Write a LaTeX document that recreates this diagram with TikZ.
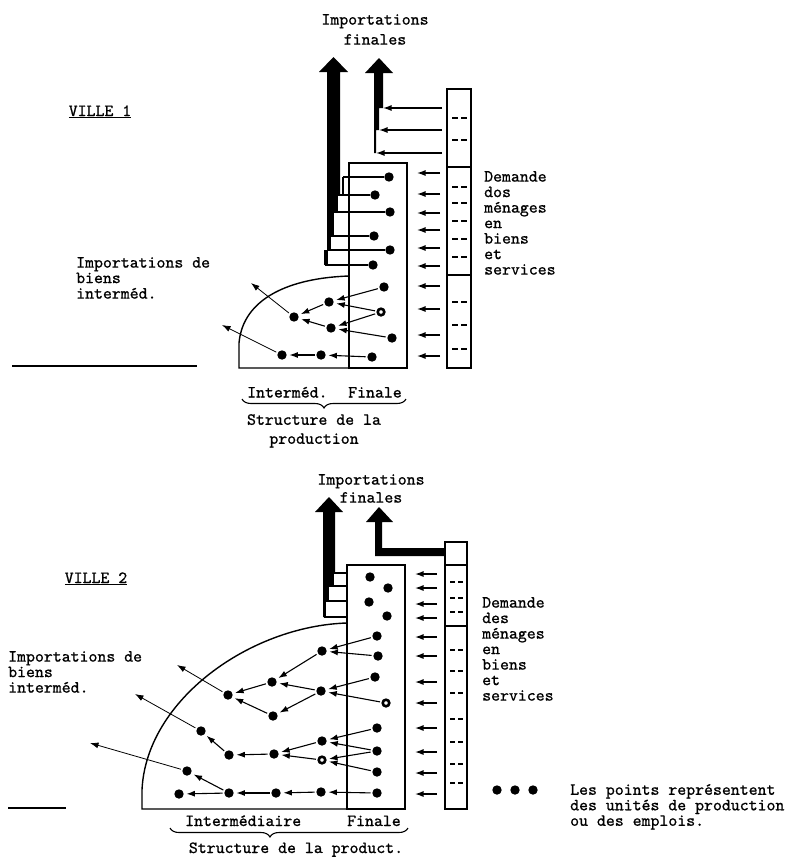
\documentclass[tikz,border=0pt]{standalone}
\usepackage{fontspec}
\newfontfamily\typew{lmmono10-regular.otf}[FakeBold=0.9]
\usetikzlibrary{arrows.meta,decorations.pathreplacing}
\begin{document}
\begin{tikzpicture}[x=1pt,y=-1pt,
  tt/.style={font=\fontsize{17}{15.5}\selectfont\typew, inner sep=0pt},
  txt/.style={tt, align=left, anchor=north west},
  ctr/.style={inner sep=0pt, align=center, anchor=north},
  dot/.style={circle, fill=black, inner sep=0pt, minimum size=9.4pt},
  hdot/.style={circle, draw=black, fill=white, line width=2.6pt, inner sep=0pt, minimum size=6.6pt},
  tip/.style={-{Latex[length=8.5pt,width=6pt]}},
  flow/.style={tip, line width=1.1pt, shorten <=1.5pt, shorten >=2.5pt},
  outflow/.style={tip, line width=0.8pt, shorten <=1.5pt},
  supply/.style={tip, line width=1.3pt},
  frame/.style={line width=1.4pt},
  fine/.style={line width=1.2pt},
  sep/.style={line width=2pt},
  brc/.style={decorate, decoration={brace, mirror, amplitude=9pt}, line width=1.1pt},
]
\useasboundingbox (0,0) rectangle (791,857);

% ===================== VILLE 1 =====================
\node[tt, anchor=base] (v1) at (100,116) {\underline{VILLE 1}};
\node[ctr, font=\fontsize{17}{20}\selectfont\typew] (imf1) at (375,14) {Importations\\finales};
\node[txt] (imi1) at (76,257) {Importations de\\biens\\interméd.};
\node[txt] (dem1) at (484,171) {Demande\\dos\\ménages\\en\\biens\\et\\services};
\draw[frame] (12,366) -- (197,366);

% final imports: two block arrows
\fill (319,72) -- (333.5,57) -- (348,72) -- (340,72) -- (340,195) -- (337,195)
  -- (337,212) -- (333,212) -- (333,236) -- (330,236) -- (330,250) -- (327,250)
  -- (327,72) -- cycle;
\fill (365,73) -- (379,58) -- (393,73) -- (383,73) -- (383,108) -- (379,108)
  -- (379,130) -- (376,130) -- (376,153) -- (374,153) -- (374,73) -- cycle;

% production: finale column and intermediate quarter
\draw[frame] (349,163) rectangle (407,368);
\draw[frame] (349,368) -- (239,368) -- (239,343)
  .. controls (243,298) and (290,278) .. (349,276);

% household demand column
\draw[frame] (447,89) rectangle (471,368);
\draw[sep] (447,167) -- (471,167) (447,275) -- (471,275);
\foreach \y in {118,140,187,203,221,239,257,302,325,349}
  \draw[fine] (452,\y) -- (458,\y) (461,\y) -- (467,\y);

% units of production
\node[dot] (fa1) at (389,177) {};
\node[dot] (fa2) at (375,195) {};
\node[dot] (fa3) at (390,212) {};
\node[dot] (fa4) at (374,236) {};
\node[dot] (fa5) at (390,250) {};
\node[dot] (fa6) at (373,265) {};
\node[dot] (fa7) at (384,287) {};
\node[hdot] (fa8) at (381,312) {};
\node[dot] (fa9) at (392,338) {};
\node[dot] (fa10) at (372,357) {};
\node[dot] (ia1) at (329,302) {};
\node[dot] (ia2) at (331,328) {};
\node[dot] (ia3) at (294,317) {};
\node[dot] (ia4) at (321,355) {};
\node[dot] (ia5) at (282,355) {};
\coordinate (oa1) at (251,283);
\coordinate (oa2) at (222,325);

% staircase of final imports
\coordinate (sa1) at (343,177);
\coordinate (sa2) at (337,195);
\coordinate (sa3) at (333,212);
\coordinate (sa4) at (330,236);
\coordinate (sa5) at (327,250);
\coordinate (sa6) at (325,265);
\draw[fine] (sa1) -- (fa1) (sa1) -- (sa1 |- sa2);
\draw[fine] (sa2) -- (fa2) (sa2) -- (sa2 |- sa3);
\draw[fine] (sa3) -- (fa3) (sa3) -- (sa3 |- sa4);
\draw[fine] (sa4) -- (fa4) (sa4) -- (sa4 |- sa5);
\draw[fine] (sa5) -- (fa5) (sa5) -- (sa5 |- sa6);
\draw[fine] (sa6) -- (fa6) (sa6) -- (325,250);

% intermediate flows
\draw[flow] (fa7) -- (ia1);
\draw[flow] (fa8) -- (ia1);
\draw[flow] (fa8) -- (ia2);
\draw[flow] (fa9) -- (ia2);
\draw[flow] (ia1) -- (ia3);
\draw[flow] (ia2) -- (ia3);
\draw[outflow] (ia3) -- (oa1);
\draw[flow] (fa10) -- (ia4);
\draw[flow] (ia4) -- (ia5);
\draw[outflow] (ia5) -- (oa2);

% demand arrows
\foreach \y [count=\i] in {173,194,213,230,248,266,286,309,335,356} {
  \coordinate (da\i) at (440,\y);
  \coordinate (ea\i) at (417,\y);
  \draw[supply] (da\i) -- (ea\i);
}
\coordinate (ga1) at (442,108); \coordinate (ha1) at (383,108);
\coordinate (ga2) at (442,130); \coordinate (ha2) at (379,130);
\coordinate (ga3) at (442,153); \coordinate (ha3) at (376,153);
\draw[supply] (ga1) -- (ha1);
\draw[supply] (ga2) -- (ha2);
\draw[supply] (ga3) -- (ha3);

% structure labels
\node[tt, anchor=base west] (lia) at (247,397.5) {Interméd.};
\node[tt, anchor=base west] (lfa) at (348,397.5) {Finale};
\draw[brc] (242,399) -- (406,399);
\node[ctr, font=\fontsize{17}{19}\selectfont\typew] (sta) at (314,414) {Structure de la\\production};

% ===================== VILLE 2 =====================
\node[tt, anchor=base] (v2) at (96,583) {\underline{VILLE 2}};
\node[ctr, font=\fontsize{17}{18}\selectfont\typew] (imf2) at (371,474) {Importations\\finales};
\node[txt] (imi2) at (8,651) {Importations de\\biens\\interméd.};
\node[txt] (dem2) at (482,597) {Demande\\des\\ménages\\en\\biens\\et\\services};
\draw[frame] (8,808) -- (66,808);

% final imports
\fill (315,512) -- (329,497) -- (343,512) -- (335,512) -- (335,573) -- (333,573)
  -- (333,587) -- (328,587) -- (328,602) -- (325,602) -- (325,617) -- (323,617)
  -- (323,512) -- cycle;
\draw[fine, fill=white] (333,573) rectangle (347,586);
\draw[fine, fill=white] (328,586) rectangle (347,601);
\draw[fine, fill=white] (325,601) rectangle (347,617);
\fill (366,522) -- (379,507) -- (393,522) -- (382,522) -- (382,548) -- (445,548)
  -- (445,556) -- (375,556) -- (375,522) -- cycle;

% production
\draw[frame] (347,565) rectangle (405,809);
\draw[frame] (347,809) -- (142,809) -- (142,790)
  .. controls (146,700) and (250,626) .. (347,623);

% household demand column
\draw[frame] (445,542) rectangle (467,809);
\draw[sep] (445,565) -- (467,565) (445,626) -- (467,626);
\foreach \y in {582,598,612,650,671,693,719,742,764,783}
  \draw[fine] (450,\y) -- (455,\y) (458,\y) -- (463,\y);

% units of production
\node[dot] (fb1) at (370,577) {};
\node[dot] (fb2) at (388,588) {};
\node[dot] (fb3) at (369,602) {};
\node[dot] (fb4) at (387,616) {};
\node[dot] (fb5) at (377,636) {};
\node[dot] (fb6) at (378,656) {};
\node[dot] (fb7) at (375,677) {};
\node[hdot] (fb8) at (386,703) {};
\node[dot] (fb9) at (377,728) {};
\node[dot] (fb10) at (377,751) {};
\node[dot] (fb11) at (377,772) {};
\node[dot] (fb12) at (377,793) {};
\node[dot] (ib1) at (322,651) {};
\node[dot] (ib2) at (321,691) {};
\node[dot] (ib3) at (272,682) {};
\node[dot] (ib4) at (273,716) {};
\node[dot] (ib5) at (228,695) {};
\node[dot] (ib6) at (322,741) {};
\node[hdot] (ib7) at (322,760) {};
\node[dot] (ib8) at (274,754) {};
\node[dot] (ib9) at (229,755) {};
\node[dot] (ib10) at (201,731) {};
\node[dot] (ib11) at (187,771) {};
\node[dot] (bb1) at (179,794) {};
\node[dot] (bb2) at (229,793) {};
\node[dot] (bb3) at (276,793) {};
\node[dot] (bb4) at (321,792) {};
\coordinate (ob1) at (177,665);
\coordinate (ob2) at (135,694);
\coordinate (ob3) at (90,743);

% intermediate flows
\draw[flow] (fb5) -- (ib1);
\draw[flow] (fb6) -- (ib1);
\draw[flow] (ib1) -- (ib3);
\draw[flow] (fb7) -- (ib2);
\draw[flow] (fb8) -- (ib2);
\draw[flow] (ib2) -- (ib3);
\draw[flow] (ib2) -- (ib4);
\draw[flow] (ib3) -- (ib5);
\draw[flow] (ib4) -- (ib5);
\draw[outflow] (ib5) -- (ob1);
\draw[flow] (fb9) -- (ib6);
\draw[flow] (fb10) -- (ib6);
\draw[flow] (fb10) -- (ib7);
\draw[flow] (fb11) -- (ib7);
\draw[flow] (ib6) -- (ib8);
\draw[flow] (ib7) -- (ib8);
\draw[flow] (ib8) -- (ib9);
\draw[flow] (ib9) -- (ib10);
\draw[outflow] (ib10) -- (ob2);
\draw[flow] (fb12) -- (bb4);
\draw[flow] (bb4) -- (bb3);
\draw[flow] (bb3) -- (bb2);
\draw[flow] (bb2) -- (bb1);
\draw[flow] (bb2) -- (ib11);
\draw[outflow] (ib11) -- (ob3);

% demand arrows
\foreach \y [count=\i] in {574,588,604,618,637,656,682,703,728,752,773,794} {
  \coordinate (db\i) at (437,\y);
  \coordinate (eb\i) at (415,\y);
  \draw[supply] (db\i) -- (eb\i);
}

% structure labels
\node[tt, anchor=base west] (lib) at (185,826) {Intermédiaire};
\node[tt, anchor=base west] (lfb) at (347,826) {Finale};
\draw[brc, decoration={aspect=0.42}] (170,828) -- (408,828);
\node[tt, anchor=base] (stb) at (296,853) {Structure de la product.};

% legend
\node[dot] (k1) at (497,790) {};
\node[dot] (k2) at (515,790) {};
\node[dot] (k3) at (533,790) {};
\node[txt] (leg) at (570,784) {Les points représentent\\des unités de production\\ou des emplois.};
\end{tikzpicture}
\end{document}
